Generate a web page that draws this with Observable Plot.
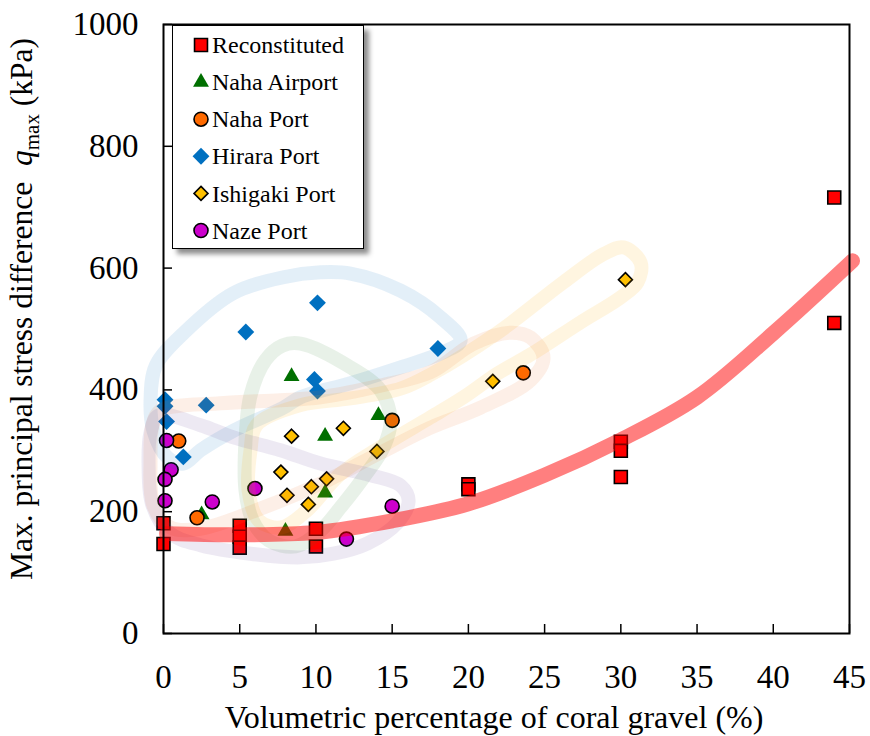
<!DOCTYPE html>
<html><head><meta charset="utf-8">
<script src="https://cdn.jsdelivr.net/npm/d3@7"></script>
<script src="https://cdn.jsdelivr.net/npm/@observablehq/plot@0.6"></script>
<style>
body{margin:0;background:#fff;}
#wrap{position:relative;width:870px;height:736px;font-family:'Liberation Serif';}
#legend{position:absolute;left:172px;top:25px;width:192px;height:224px;background:#fff;border:1.5px solid #000;box-shadow:5px 5px 5px rgba(0,0,0,0.45);box-sizing:border-box;}
#legend svg{display:block}
</style></head>
<body><div id="wrap"><div id="chart"></div><div id="legend"></div></div>
<script>
// ---- data ----
const xTicks = [0, 5, 10, 15, 20, 25, 30, 35, 40, 45];
const yTicks = [0, 200, 400, 600, 800, 1000];

const recX = [0, 0, 5, 5, 5, 10, 10, 20, 20, 30, 30, 30, 44, 44];
const recY = [181, 147, 177, 159, 141, 172, 143, 245, 237, 315, 300, 257, 716, 510];

const airX = [2.5, 8.0, 8.4, 10.6, 10.6, 14.1];
const airY = [195, 168, 422, 324, 231, 358];

const nahaX = [1.0, 2.2, 15.0, 23.6];
const nahaY = [316, 190, 350, 428];

const hirX = [0.1, 0.1, 0.2, 1.3, 2.8, 5.4, 9.9, 10.1, 10.1, 18.0];
const hirY = [384, 373, 348, 290, 375, 495, 417, 398, 543, 468];

const ishX = [7.7, 8.1, 8.4, 9.5, 9.7, 10.7, 11.8, 14.0, 21.6, 30.3];
const ishY = [265, 227, 324, 212, 241, 254, 337, 299, 414, 581];

const nazeX = [0.2, 0.5, 0.1, 0.1, 3.2, 6.0, 12.0, 15.0];
const nazeY = [317, 269, 253, 218, 216, 238, 155, 209];

// hand-drawn trend band and group outlines
const bandX = [0.2, 5, 10, 15, 20, 25, 30, 35, 40, 45.2];
const bandY = [164, 162, 166, 185, 213, 260, 318, 388, 493, 612];

const hirLoopX = [-0.85, -0.5, 1.31, 4.59, 7.87, 10.3, 12.27, 15.55, 18.18, 19.49, 18.18, 15.55, 12.27, 8.99, 7.87, 4.59, 2.43, 1.31, 0.26, -0.66];
const hirLoopY = [383, 440, 493, 559, 585, 593, 591, 563, 519, 481, 460, 437, 411, 388, 371, 333, 301, 279, 289, 333];

const airLoopX = [8.99, 12.27, 14.24, 14.9, 14.44, 13.12, 11.61, 10.3, 8.66, 6.89, 5.84, 5.38, 5.38, 5.71, 6.69, 7.81];
const airLoopY = [476, 437, 399, 350, 306, 256, 207, 169, 143, 153, 186, 235, 317, 391, 449, 473];

const nahaLoopX = [-0.2, 3.74, 7.68, 10.3, 14.24, 17.52, 20.34, 22.77, 24.08, 24.93, 24.08, 20.8, 17.52, 14.24, 10.3, 6.36, 2.43, 0.46, -0.66, -0.85, -0.72];
const nahaLoopY = [366, 378, 383, 388, 407, 429, 476, 494, 486, 453, 416, 371, 338, 297, 246, 205, 172, 174, 210, 284, 342];

const ishLoopX = [6.1, 8.99, 12.27, 15.55, 17.52, 21.92, 26.25, 28.87, 30.18, 31.3, 31.1, 29.99, 27.36, 24.08, 21.92, 19.69, 17.52, 14.24, 11.61, 9.32, 7.68, 6.23, 5.58, 5.71];
const ishLoopY = [342, 375, 386, 402, 425, 494, 577, 623, 634, 609, 577, 552, 511, 458, 427, 388, 355, 306, 262, 200, 174, 186, 235, 301];

const nazeLoopX = [-0.33, 2.43, 4.59, 7.68, 10.3, 13.58, 15.55, 16.08, 15.35, 13.39, 11.15, 8.99, 5.71, 2.43, 0.46, -0.72, -0.98, -0.85];
const nazeLoopY = [358, 342, 322, 301, 279, 260, 243, 218, 182, 148, 131, 125, 131, 145, 164, 210, 276, 330];

// ---- build tables ----
const tbl = (xs, ys) => xs.map((x, i) => ({x, y: ys[i]}));
const rec = tbl(recX, recY), air = tbl(airX, airY), naha = tbl(nahaX, nahaY),
      hir = tbl(hirX, hirY), ish = tbl(ishX, ishY), naze = tbl(nazeX, nazeY);
const band = tbl(bandX, bandY);
const loops = [
  {d: tbl(hirLoopX, hirLoopY), c: "#0070c0", o: 0.11},
  {d: tbl(airLoopX, airLoopY), c: "#2e7d32", o: 0.11},
  {d: tbl(nahaLoopX, nahaLoopY), c: "#f07020", o: 0.11},
  {d: tbl(ishLoopX, ishLoopY), c: "#ffb000", o: 0.12},
  {d: tbl(nazeLoopX, nazeLoopY), c: "#6a4c9c", o: 0.12}
];

const FONT = "Liberation Serif";
const series = [
  {name: "Reconstituted", data: rec, symbol: "square", r: 7.3, fill: "#ff0000", stroke: "#000"},
  {name: "Naha Airport", data: air, symbol: "triangle", r: 5.9, fill: "#006f00", stroke: "none"},
  {name: "Naha Port", data: naha, symbol: "circle", r: 7, fill: "#ff6a00", stroke: "#000"},
  {name: "Hirara Port", data: hir, symbol: "diamond2", r: 7.6, fill: "#0070c0", stroke: "none"},
  {name: "Ishigaki Port", data: ish, symbol: "diamond2", r: 6.3, fill: "#ffc000", stroke: "#000"},
  {name: "Naze Port", data: naze, symbol: "circle", r: 7, fill: "#cc00cc", stroke: "#000"}
];

const plot = Plot.plot({
  width: 870, height: 736,
  marginLeft: 163, marginRight: 21, marginTop: 24, marginBottom: 103,
  style: {fontFamily: FONT, fontSize: "33px", color: "#000", background: "#fff"},
  x: {domain: [0, 45]},
  y: {domain: [0, 1000]},
  marks: [
    Plot.axisX({ticks: xTicks, tickSize: -9, tickFormat: () => "", label: null, strokeWidth: 1.5}),
    Plot.axisX({ticks: xTicks, tickSize: 0, tickPadding: 31, label: null, tickFormat: d => String(d)}),
    Plot.axisY({ticks: yTicks, tickSize: -9, tickFormat: () => "", label: null, strokeWidth: 1.5}),
    Plot.axisY({ticks: yTicks, tickSize: 0, tickPadding: 25, label: null, tickFormat: d => String(d)}),
    ...series.map(s => Plot.dot(s.data, {x: "x", y: "y", symbol: s.symbol, r: s.r, fill: s.fill, stroke: s.stroke, strokeWidth: 1.6})),
    ...loops.map(l => Plot.line(l.d, {x: "x", y: "y", curve: "catmull-rom-closed", stroke: l.c, strokeOpacity: l.o, strokeWidth: 14})),
    Plot.line(band, {x: "x", y: "y", curve: "catmull-rom", stroke: "#ff0000", strokeOpacity: 0.5, strokeWidth: 15}),
    Plot.frame({stroke: "#000", strokeWidth: 2})
  ]
});
document.getElementById("chart").appendChild(plot);

const svg = d3.select(plot);

// y-axis title with italic q and subscript "max"
const yl = svg.append("text")
  .attr("transform", "translate(32,309) rotate(-90)")
  .attr("text-anchor", "middle")
  .attr("font-size", 31.5)
  .attr("fill", "#000");
yl.append("tspan").text("Max. principal stress difference  ");
yl.append("tspan").attr("font-style", "italic").text("q");
yl.append("tspan").attr("font-size", 21).attr("dy", 7).text("max");
yl.append("tspan").attr("dy", -7).text(" (kPa)");

// x-axis title
svg.append("text")
  .attr("x", 494).attr("y", 728)
  .attr("text-anchor", "middle")
  .attr("font-size", 32)
  .attr("fill", "#000")
  .text("Volumetric percentage of coral gravel (%)");

// legend
const lg = d3.select("#legend").append("svg").attr("width", 190).attr("height", 222);
const symMap = {square: d3.symbolSquare, triangle: d3.symbolTriangle, circle: d3.symbolCircle, diamond2: d3.symbolDiamond2};
series.forEach((s, i) => {
  const cy = 19 + i * 37.1;
  const g = lg.append("g").attr("transform", `translate(28,${cy})`);
  g.append("path")
    .attr("d", d3.symbol(symMap[s.symbol], Math.PI * s.r * s.r)())
    .attr("fill", s.fill).attr("stroke", s.stroke).attr("stroke-width", 1.6);
  lg.append("text").attr("x", 39).attr("y", cy).attr("dy", "0.34em")
    .attr("font-size", 24).attr("fill", "#000").text(s.name);
});

// put the font directly on every text element
d3.selectAll("svg text, svg tspan").attr("font-family", FONT);
</script>
</body></html>
